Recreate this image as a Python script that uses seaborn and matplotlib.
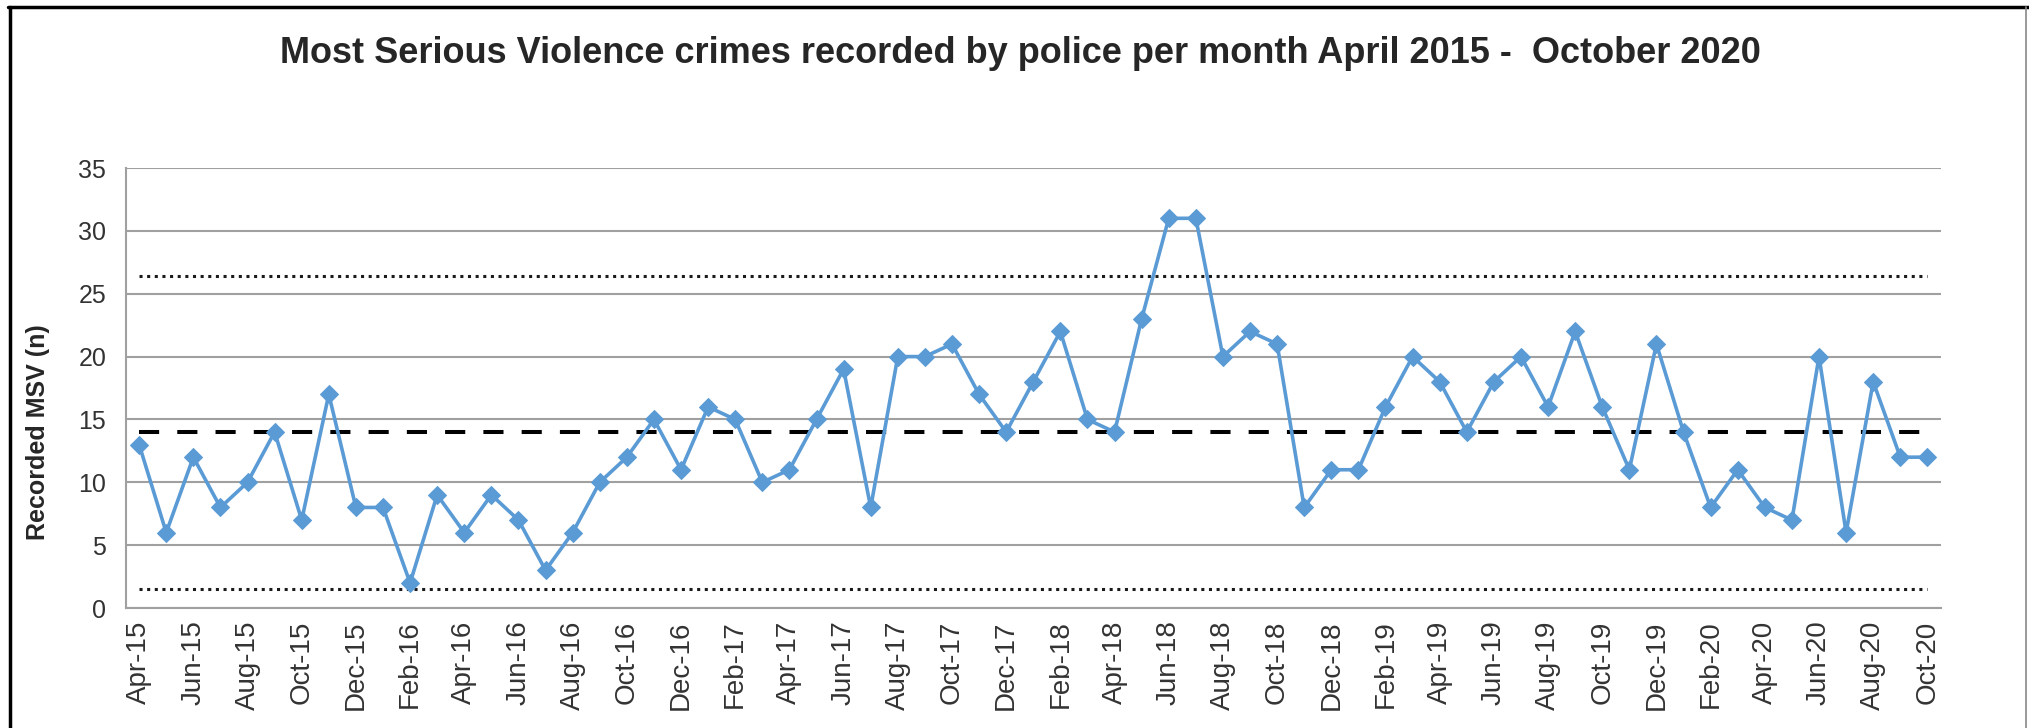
import matplotlib
matplotlib.use('Agg')
import matplotlib.pyplot as plt
from matplotlib import font_manager
from matplotlib.lines import Line2D
import pandas as pd
import seaborn as sns

# 月別データ（2015年4月〜2020年10月）
months = pd.date_range('2015-04-01', '2020-10-01', freq='MS')
month_labels = [m.strftime('%b-%y') for m in months]
msv_counts = [
    13, 6, 12, 8, 10, 14, 7, 17, 8,
    8, 2, 9, 6, 9, 7, 3, 6, 10, 12, 15, 11,
    16, 15, 10, 11, 15, 19, 8, 20, 20, 21, 17, 14,
    18, 22, 15, 14, 23, 31, 31, 20, 22, 21, 8, 11,
    11, 16, 20, 18, 14, 18, 20, 16, 22, 16, 11, 21,
    14, 8, 11, 8, 7, 20, 6, 18, 12, 12,
]
mean_level = 14.0
upper_limit = 26.45
lower_limit = 1.5
y_ticks = [0, 5, 10, 15, 20, 25, 30, 35]

title_text = 'Most Serious Violence crimes recorded by police per month April 2015 -  October 2020'
y_label = 'Recorded MSV (n)'

sns.set_theme(style='white')

installed = {f.name for f in font_manager.fontManager.ttflist}
narrow = 'Liberation Sans Narrow' if 'Liberation Sans Narrow' in installed else 'Liberation Sans'
plt.rcParams['font.family'] = ['Liberation Sans', 'DejaVu Sans']

df = pd.DataFrame({'idx': range(len(msv_counts)), 'count': msv_counts})

fig = plt.figure(figsize=(20.29, 7.28), dpi=100)
ax = fig.add_axes([0.0619, 0.1648, 0.8947, 0.6044])

# 基準線（平均・上限・下限）
x_first, x_last = 0, len(msv_counts) - 1
ax.plot([x_first, x_last], [upper_limit] * 2, color='#1a1a1a', lw=2.2,
        linestyle=(0, (1, 1.5)), zorder=2)
ax.plot([x_first, x_last], [lower_limit] * 2, color='#1a1a1a', lw=2.2,
        linestyle=(0, (1, 1.5)), zorder=2)
ax.plot([x_first, x_last], [mean_level] * 2, color='black', lw=2.9,
        linestyle=(0, (5, 4.5)), zorder=2)

sns.lineplot(data=df, x='idx', y='count', ax=ax, color='#5B9BD5', lw=2.6,
             marker='D', markersize=9, markeredgecolor='#5B9BD5', zorder=3)

ax.set_xlim(-0.5, len(msv_counts) - 0.5)
ax.set_ylim(0, 35)
ax.set_yticks(y_ticks)
ax.set_yticklabels([str(t) for t in y_ticks], fontsize=18, color='#333333')
ax.set_xticks(range(0, len(msv_counts), 2))
ax.set_xticklabels(month_labels[::2], rotation=90, fontsize=20, color='#333333')
ax.tick_params(axis='y', length=0, pad=14)
ax.tick_params(axis='x', length=0, pad=9)

ax.yaxis.grid(True, color='#a0a0a0', lw=1.5)
ax.set_axisbelow(True)
for side in ['top', 'right']:
    ax.spines[side].set_visible(False)
for side in ['left', 'bottom']:
    ax.spines[side].set_color('#a0a0a0')
    ax.spines[side].set_linewidth(1.5)

ax.set_xlabel('')
ax.set_ylabel(y_label, fontsize=18, fontweight='bold', family=[narrow, 'DejaVu Sans'])
ax.yaxis.set_label_coords(-0.0415, 0.40)

fig.text(0.503, 0.926, title_text, ha='center', va='center', fontsize=26,
         fontweight='bold', family=[narrow, 'DejaVu Sans'])

# 外枠
fig.add_artist(Line2D([0.004, 1.0], [0.99, 0.99], color='black', lw=2.5))
fig.add_artist(Line2D([0.005, 0.005], [0.0, 0.99], color='black', lw=2.5))
fig.add_artist(Line2D([0.9985, 0.9985], [0.0, 0.99], color='#888888', lw=1.2))

fig.savefig('out.png', dpi=100)
